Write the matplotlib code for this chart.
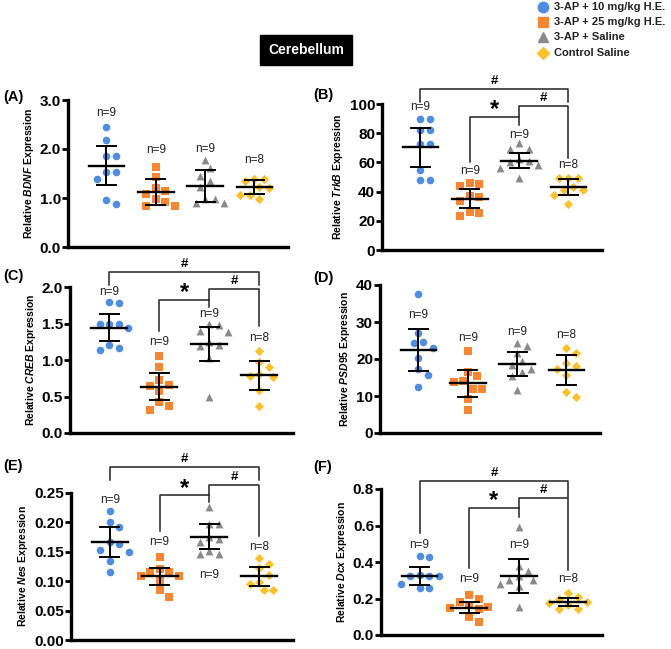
import matplotlib
matplotlib.use('Agg')
import matplotlib.pyplot as plt
import numpy as np

plt.rcParams.update({'font.family': 'Liberation Sans', 'mathtext.fontset': 'custom',
                     'mathtext.it': 'Liberation Sans:italic:bold', 'mathtext.rm': 'Liberation Sans:bold'})

groups = ['3-AP + 10 mg/kg H.E.', '3-AP + 25 mg/kg H.E.', '3-AP + Saline', 'Control Saline']
colors = ['#4F8DE0', '#F58634', '#8A8A8A', '#F8C12D']
markers = ['o', 's', '^', 'D']
msizes = [30, 27, 32, 22]

# values, order: 10 mg/kg, 25 mg/kg, saline, control
bdnf = [[2.45, 2.18, 1.86, 1.85, 1.54, 1.53, 1.39, 0.88, 0.96],
        [1.64, 1.42, 1.15, 1.20, 1.08, 0.92, 0.97, 0.84, 0.84],
        [1.78, 1.45, 1.61, 1.22, 1.34, 0.97, 0.90, 0.90, 0.97],
        [1.39, 1.39, 1.35, 1.22, 1.20, 1.06, 1.06, 0.98]]
bdnf_mean = [1.66, 1.13, 1.25, 1.22]
bdnf_sd = [0.40, 0.265, 0.33, 0.145]

trkb = [[89.7, 89.7, 82, 82, 72.4, 72.4, 55, 47.7, 47.7],
        [45.7, 45, 44, 36.5, 37, 33.8, 25.1, 26, 23.3],
        [73, 69, 69, 60.5, 62, 61, 58, 56, 49],
        [49.5, 49, 49.5, 41, 43.4, 41, 38, 31.5]]
trkb_mean = [70.3, 35.0, 61.2, 43.0]
trkb_sd = [13.3, 6.5, 5.0, 5.3]

creb = [[1.78, 1.79, 1.50, 1.50, 1.49, 1.44, 1.20, 1.14, 1.17],
        [1.05, 0.90, 0.73, 0.66, 0.64, 0.57, 0.43, 0.37, 0.32],
        [1.48, 1.49, 1.40, 1.38, 1.24, 1.19, 1.21, 1.03, 0.50],
        [1.12, 0.97, 0.90, 0.81, 0.77, 0.78, 0.59, 0.37]]
creb_mean = [1.44, 0.635, 1.22, 0.79]
creb_sd = [0.185, 0.185, 0.235, 0.195]

psd95 = [[37.6, 26.9, 24.6, 24.2, 22.9, 20.4, 17.2, 15.8, 12.3],
         [22.1, 16.5, 15.4, 13.8, 14.0, 12.0, 12.0, 9.1, 6.1],
         [24.4, 23.5, 21.7, 19.4, 18.3, 16.5, 17.2, 15.3, 11.7],
         [23.0, 21.7, 19.0, 17.2, 18.2, 15.6, 11.1, 9.6]]
psd95_mean = [22.4, 13.4, 18.6, 17.0]
psd95_sd = [5.6, 3.6, 3.3, 3.95]

nes = [[0.220, 0.200, 0.193, 0.166, 0.163, 0.153, 0.150, 0.135, 0.116],
       [0.141, 0.121, 0.115, 0.115, 0.109, 0.109, 0.102, 0.085, 0.073],
       [0.226, 0.197, 0.197, 0.176, 0.172, 0.167, 0.151, 0.146, 0.147],
       [0.130, 0.139, 0.122, 0.111, 0.095, 0.099, 0.085, 0.085]]
nes_mean = [0.167, 0.108, 0.176, 0.108]
nes_sd = [0.025, 0.014, 0.0215, 0.017]

dcx = [[0.427, 0.434, 0.325, 0.325, 0.33, 0.325, 0.28, 0.256, 0.26],
       [0.22, 0.20, 0.18, 0.165, 0.155, 0.15, 0.14, 0.10, 0.07],
       [0.59, 0.38, 0.35, 0.30, 0.325, 0.28, 0.27, 0.30, 0.152],
       [0.229, 0.21, 0.20, 0.18, 0.178, 0.165, 0.141, 0.141]]
dcx_mean = [0.324, 0.150, 0.324, 0.18]
dcx_sd = [0.048, 0.032, 0.092, 0.023]

genes = ['BDNF', 'TrkB', 'CREB', 'PSD95', 'Nes', 'Dcx']
panel_tags = ['(A)', '(B)', '(C)', '(D)', '(E)', '(F)']
all_vals = [bdnf, trkb, creb, psd95, nes, dcx]
all_means = [bdnf_mean, trkb_mean, creb_mean, psd95_mean, nes_mean, dcx_mean]
all_sds = [bdnf_sd, trkb_sd, creb_sd, psd95_sd, nes_sd, dcx_sd]
yticks = [np.arange(0, 3.01, 1.0), np.arange(0, 101, 20), np.arange(0, 2.01, 0.5),
          np.arange(0, 41, 10), np.arange(0, 0.251, 0.05), np.arange(0, 0.81, 0.2)]
yfmt = ['{:.1f}', '{:.0f}', '{:.1f}', '{:.0f}', '{:.2f}', '{:.1f}']

# layout (pixels) and label heights
W, H = 671, 649
boxes = [(68, 100, 288, 247), (382, 104, 602, 250), (70, 287, 293, 433),
         (380, 285, 600, 433), (71, 493, 293, 640), (381, 489, 602, 635)]
tag_pos = [(3, 97), (313, 95), (3, 276), (313, 278), (3, 466), (313, 467)]
nlab_y = [[2.73, 1.97, 1.99, 1.77], [98, 54, 79, 58], [1.93, 1.24, 1.63, 1.30],
          [31.9, 25.6, 27.4, 26.5], [0.238, 0.167, 0.111, 0.158], [0.494, 0.306, 0.494, 0.306]]
brackets = {
    1: [(1, 4, 110.3, 101.2, 101.2, '#'), (3, 4, 98.8, 91.3, 63, '#'), (2, 3, 91.3, 60.5, 85.6, '*')],
    2: [(1, 4, 2.205, 2.027, 2.027, '#'), (3, 4, 1.968, 1.822, 1.466, '#'), (2, 3, 1.822, 1.401, 1.730, '*')],
    4: [(1, 4, 0.294, 0.2715, 0.2715, '#'), (3, 4, 0.263, 0.246, 0.177, '#'), (2, 3, 0.246, 0.185, 0.234, '*')],
    5: [(1, 4, 0.844, 0.557, 0.758, '#'), (3, 4, 0.752, 0.694, 0.356, '#'), (2, 3, 0.694, 0.365, 0.648, '*')],
}
XL = (0.22, 4.68)


def swarm(vals, ypx, xpx, d=9.5):
    """simple beeswarm: offsets in data x units"""
    vals = np.asarray(vals, float)
    xs = np.zeros(len(vals))
    placed = []
    for i in np.argsort(vals)[::-1]:
        y = vals[i] * ypx
        for k in range(0, 20):
            ok = None
            for off in ([0] if k == 0 else [k * d / 2, -k * d / 2]):
                if all((off - px) ** 2 + (y - py) ** 2 >= d ** 2 for px, py in placed):
                    ok = off
                    break
            if ok is not None:
                placed.append((ok, y))
                xs[i] = ok / xpx
                break
    return xs


fig = plt.figure(figsize=(W / 100, H / 100), dpi=100)

for p in range(6):
    l, t, r, b = boxes[p]
    ax = fig.add_axes([l / W, 1 - b / H, (r - l) / W, (b - t) / H])
    ymax = yticks[p][-1]
    ax.set_ylim(0, ymax)
    ax.set_xlim(*XL)
    ypx = (b - t) / ymax
    xpx = (r - l) / (XL[1] - XL[0])
    for g in range(4):
        v = all_vals[p][g]
        x = g + 1 + swarm(v, ypx, xpx)
        ax.scatter(x, v, s=msizes[g], marker=markers[g], color=colors[g], lw=0, zorder=2, clip_on=False)
        m, sd = all_means[p][g], all_sds[p][g]
        ax.plot([g + 1 - 0.36, g + 1 + 0.36], [m, m], color='k', lw=1.7, zorder=3)
        ax.plot([g + 1, g + 1], [m - sd, m + sd], color='k', lw=1.4, zorder=3)
        for yy in (m - sd, m + sd):
            ax.plot([g + 1 - 0.19, g + 1 + 0.19], [yy, yy], color='k', lw=1.4, zorder=3)
        ax.text(g + 1, nlab_y[p][g], f'n={len(v)}', ha='center', va='center', fontsize=8.5, color='#222222')
    for (x1, x2, y, d1, d2, lab) in brackets.get(p, []):
        ax.plot([x1, x1, x2, x2], [d1, y, y, d2], color='#222222', lw=1.1, clip_on=False)
        if lab == '*':
            ax.annotate('*', ((x1 + x2) / 2, y), xytext=(0, -3), textcoords='offset points',
                        ha='center', va='bottom', fontsize=17, fontweight='bold', annotation_clip=False)
        else:
            ax.annotate('#', ((x1 + x2) / 2, y), xytext=(0, 1.5), textcoords='offset points',
                        ha='center', va='bottom', fontsize=9.5, fontweight='bold', annotation_clip=False)
    ax.set_yticks(yticks[p])
    ax.set_yticklabels([yfmt[p].format(v) for v in yticks[p]], fontsize=11, fontweight='bold')
    ax.set_xticks([])
    for s in ('top', 'right'):
        ax.spines[s].set_visible(False)
    for s in ('left', 'bottom'):
        ax.spines[s].set_linewidth(2.4)
    ax.tick_params(axis='y', width=2, length=4, pad=1)
    ax.set_ylabel(r'Relative $\mathit{' + genes[p] + '}$ Expression', fontsize=7.5,
                  fontweight='bold', labelpad=3)
    fig.text(tag_pos[p][0] / W, 1 - tag_pos[p][1] / H, panel_tags[p], fontsize=10.5,
             fontweight='bold', va='center', ha='left')

fig.text(306 / W, 1 - 50 / H, 'Cerebellum', color='white', fontsize=10, fontweight='bold',
         ha='center', va='center',
         bbox=dict(boxstyle='square,pad=0.6', facecolor='black', edgecolor='black'))

# legend
for g in range(4):
    yy = 1 - [7, 22, 37, 53][g] / H
    fig.lines.append(plt.Line2D([543 / W], [yy], marker=markers[g], color=colors[g], ls='none',
                                markersize=[7.5, 7, 7.5, 6.5][g], transform=fig.transFigure))
    fig.text(554 / W, yy, groups[g], fontsize=8.0, fontweight='bold', va='center', color='#222222')

fig.savefig('out.png', dpi=100)
